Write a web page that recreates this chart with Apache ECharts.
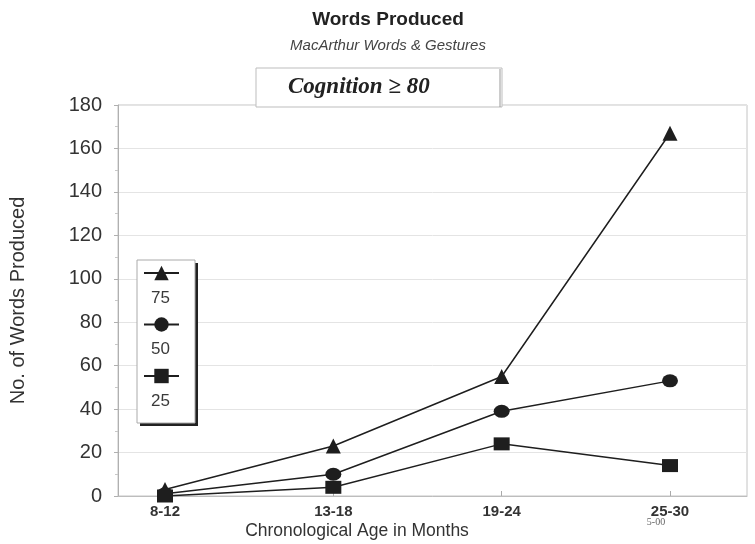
<!DOCTYPE html>
<html>
<head>
<meta charset="utf-8">
<title>Words Produced</title>
<script src="https://cdn.jsdelivr.net/npm/echarts@6/dist/echarts.min.js"></script>
<style>
  html, body { margin: 0; padding: 0; background: #fff; }
  #chart { width: 755px; height: 544px; }
</style>
</head>
<body>
<div id="chart"></div>
<script>
// Age bands (months)
const categories = ['8-12', '13-18', '19-24', '25-30'];
// Percentile curves of words produced
const p75 = [3, 23, 55, 167];
const p50 = [1, 10, 39, 53];
const p25 = [0, 4, 24, 14];
const yTicks = { min: 0, max: 180, interval: 20 };

const ink = '#1e1e1e';
const textColor = '#333';

function lineSeries(name, data, symbol, size) {
  return {
    name: name,
    type: 'line',
    xAxisIndex: 0,
    yAxisIndex: 0,
    data: data,
    symbol: symbol,
    symbolSize: size,
    lineStyle: { color: ink, width: 1.5 },
    itemStyle: { color: ink },
    z: 5
  };
}

const chart = echarts.init(document.getElementById('chart'));
chart.setOption({
  animation: false,
  textStyle: { fontFamily: 'Liberation Sans, Arial, sans-serif' },
  title: {
    text: 'Words Produced',
    subtext: 'MacArthur Words & Gestures',
    left: 383,
    textAlign: 'center',
    top: 5,
    itemGap: 9,
    textStyle: { fontSize: 19, fontWeight: 'bold', color: '#222' },
    subtextStyle: { fontSize: 15, fontStyle: 'italic', color: '#444' }
  },
  // icon on top, value label underneath
  legend: {
    orient: 'vertical',
    left: 143,
    top: 235.5,
    padding: 0,
    itemWidth: 35,
    itemHeight: 18,
    itemGap: -23.5,
    z: 6,
    formatter: function (name) { return '\n\n' + name; },
    textStyle: { fontSize: 17, lineHeight: 25, color: '#3a3a3a', padding: [0, 0, 0, -33] },
    data: ['75', '50', '25']
  },
  grid: [
    { left: 165, right: 85, top: 105, bottom: 48 },
    { left: 117, right: 8, top: 105, bottom: 48, show: true, borderColor: '#c4c4c4', borderWidth: 1, backgroundColor: 'transparent' }
  ],
  xAxis: [
    {
      type: 'category',
      gridIndex: 0,
      data: categories,
      boundaryGap: false,
      axisLine: { show: false },
      axisTick: { show: true, length: -5, lineStyle: { color: '#aaa' } },
      axisLabel: { fontSize: 15, fontWeight: 'bold', color: textColor, margin: 8 },
      splitLine: { show: false }
    },
    {
      type: 'value',
      gridIndex: 1,
      min: 0,
      max: 1,
      axisLine: { show: true, lineStyle: { color: '#bdbdbd' } },
      axisTick: { show: false },
      axisLabel: { show: false },
      splitLine: { show: false }
    }
  ],
  yAxis: [
    {
      type: 'value',
      gridIndex: 0,
      min: yTicks.min,
      max: yTicks.max,
      interval: yTicks.interval,
      show: false,
      splitLine: { show: false }
    },
    {
      type: 'value',
      gridIndex: 1,
      min: yTicks.min,
      max: yTicks.max,
      interval: yTicks.interval,
      name: 'No. of Words Produced',
      nameLocation: 'middle',
      nameGap: 90,
      nameTextStyle: { fontSize: 20, color: textColor },
      axisLine: { show: true, lineStyle: { color: '#b0b0b0' } },
      axisTick: { show: true, length: 4, lineStyle: { color: '#b0b0b0' } },
      minorTick: { show: true, splitNumber: 2, length: 3, lineStyle: { color: '#c8c8c8' } },
      axisLabel: { fontSize: 20, color: textColor, margin: 16 },
      splitLine: { show: true, lineStyle: { color: '#e4e4e4', width: 1 } }
    }
  ],
  series: [
    lineSeries('75', p75, 'triangle', 15),
    lineSeries('50', p50, 'circle', [16, 13]),
    lineSeries('25', p25, 'rect', [16, 13])
  ],
  graphic: [
    {
      // dark drop edge behind the legend frame
      type: 'rect',
      shape: { x: 140, y: 263, width: 58, height: 163 },
      style: { fill: '#222' },
      z: 3
    },
    {
      type: 'rect',
      shape: { x: 137, y: 260, width: 58, height: 163 },
      style: { fill: '#fff', stroke: '#aaa', lineWidth: 1 },
      z: 3
    },
    {
      type: 'rect',
      shape: { x: 256, y: 68, width: 246, height: 39 },
      style: { fill: '#fff', stroke: '#bdbdbd', lineWidth: 1 },
      z: 10
    },
    {
      type: 'line',
      shape: { x1: 500, y1: 69, x2: 500, y2: 107 },
      style: { stroke: '#999', lineWidth: 1 },
      z: 11
    },
    {
      type: 'text',
      x: 288,
      y: 87,
      style: {
        text: 'Cognition \u2265 80',
        font: 'italic bold 23px "Liberation Serif", "Times New Roman", serif',
        fill: '#222',
        verticalAlign: 'middle'
      },
      z: 11
    },
    {
      type: 'text',
      x: 357,
      y: 531,
      style: {
        text: 'Chronological Age in Months',
        font: '17.5px "Liberation Sans", Arial, sans-serif',
        fill: textColor,
        align: 'center',
        verticalAlign: 'middle'
      }
    },
    {
      type: 'text',
      x: 656,
      y: 522,
      style: {
        text: '5-00',
        font: '10px "Liberation Serif", serif',
        fill: '#666',
        align: 'center',
        verticalAlign: 'middle'
      }
    }
  ]
});
</script>
</body>
</html>
